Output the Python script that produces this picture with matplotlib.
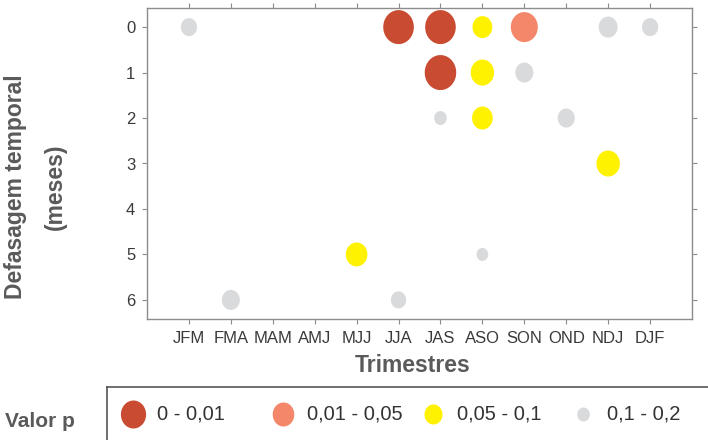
import matplotlib
matplotlib.use("Agg")
import matplotlib.pyplot as plt
import numpy as np
from matplotlib.path import Path as MPath

plt.rcParams['font.family'] = ['Liberation Sans', 'DejaVu Sans']

trimestres = ["JFM", "FMA", "MAM", "AMJ", "MJJ", "JJA", "JAS", "ASO", "SON", "OND", "NDJ", "DJF"]
defasagens = [0, 1, 2, 3, 4, 5, 6]

# points: trimester, lag (months), p-value class, bubble magnitude
pt_trim = ["JFM", "FMA", "MJJ", "JJA", "JJA", "JAS", "JAS", "JAS", "ASO",
           "ASO", "ASO", "ASO", "SON", "SON", "OND", "NDJ", "NDJ", "DJF"]
pt_lag = [0, 6, 5, 0, 6, 0, 1, 2, 0, 1, 2, 5, 0, 1, 2, 0, 3, 0]
pt_classe = [3, 3, 2, 0, 3, 0, 0, 3, 2, 2, 2, 3, 1, 3, 3, 3, 2, 3]
pt_mag = [18, 20, 24, 34, 17, 34, 35, 14, 22, 26, 23, 13, 30, 20, 19, 21, 26, 18]

classes = ["0 - 0,01", "0,01 - 0,05", "0,05 - 0,1", "0,1 - 0,2"]
cores = ["#C84B32", "#F4876A", "#FFF200", "#D9DADC"]
leg_mag = [28, 24, 20, 14]

# slightly taller-than-wide ellipse marker
t = np.linspace(0, 2 * np.pi, 80)
ell = MPath(np.column_stack([0.45 * np.cos(t), 0.5 * np.sin(t)]), closed=True)

fig = plt.figure(figsize=(7.08, 4.40), dpi=100)
ax = fig.add_axes([147 / 708, 121 / 440, 545 / 708, 311 / 440])

xs = [trimestres.index(tr) for tr in pt_trim]
ss = [(m * 0.72) ** 2 for m in pt_mag]
cs = [cores[c] for c in pt_classe]
ax.scatter(xs, pt_lag, s=ss, c=cs, marker=ell, linewidths=0, zorder=3)

ax.set_xlim(-1, 12)
ax.set_ylim(6.42, -0.42)
ax.set_xticks(range(len(trimestres)))
ax.set_xticklabels(trimestres)
ax.set_yticks(defasagens)
for sp in ax.spines.values():
    sp.set_color("#8C8C8C")
    sp.set_linewidth(1.0)
ax.tick_params(axis="both", which="both", direction="out", length=3.5, width=0.8,
               color="#8C8C8C", labelsize=12, labelcolor="#3A3A3A",
               top=True, right=True, pad=5)

ax.set_xlabel("")
fig.text(413 / 708, 1 - 366 / 440, "Trimestres", ha="center", va="center",
         fontsize=16.5, fontweight="bold", color="#5A5A5A")
fig.text(16 / 708, 1 - 187 / 440, "Defasagem temporal", rotation=90, ha="center",
         va="center", fontsize=16.5, fontweight="bold", color="#5A5A5A")
fig.text(55 / 708, 1 - 187 / 440, "(meses)", rotation=90, ha="center",
         va="center", fontsize=16.5, fontweight="bold", color="#5A5A5A")

# legend strip
lax = fig.add_axes([107 / 708, 0, 601 / 708, 53 / 440])
lax.set_xlim(-26 / 150, 575 / 150)
lax.set_ylim(0, 1)
lax.set_xticks([])
lax.set_yticks([])
lax.patch.set_alpha(0)
for k in ["right", "bottom"]:
    lax.spines[k].set_visible(False)
for k in ["left", "top"]:
    lax.spines[k].set_color("#555555")
    lax.spines[k].set_linewidth(1.2)
for i, (lab, cor, m) in enumerate(zip(classes, cores, leg_mag)):
    lax.scatter([i], [0.5], s=(m * 0.72) ** 2, c=cor, marker=ell, linewidths=0)
    lax.text(i + 0.16, 0.5, lab, ha="left", va="center", fontsize=14.5,
             color="#333333")

fig.text(5 / 708, 1 - 421 / 440, "Valor p", ha="left", va="center",
         fontsize=15, fontweight="bold", color="#5A5A5A")

fig.savefig("out.png", dpi=100)
